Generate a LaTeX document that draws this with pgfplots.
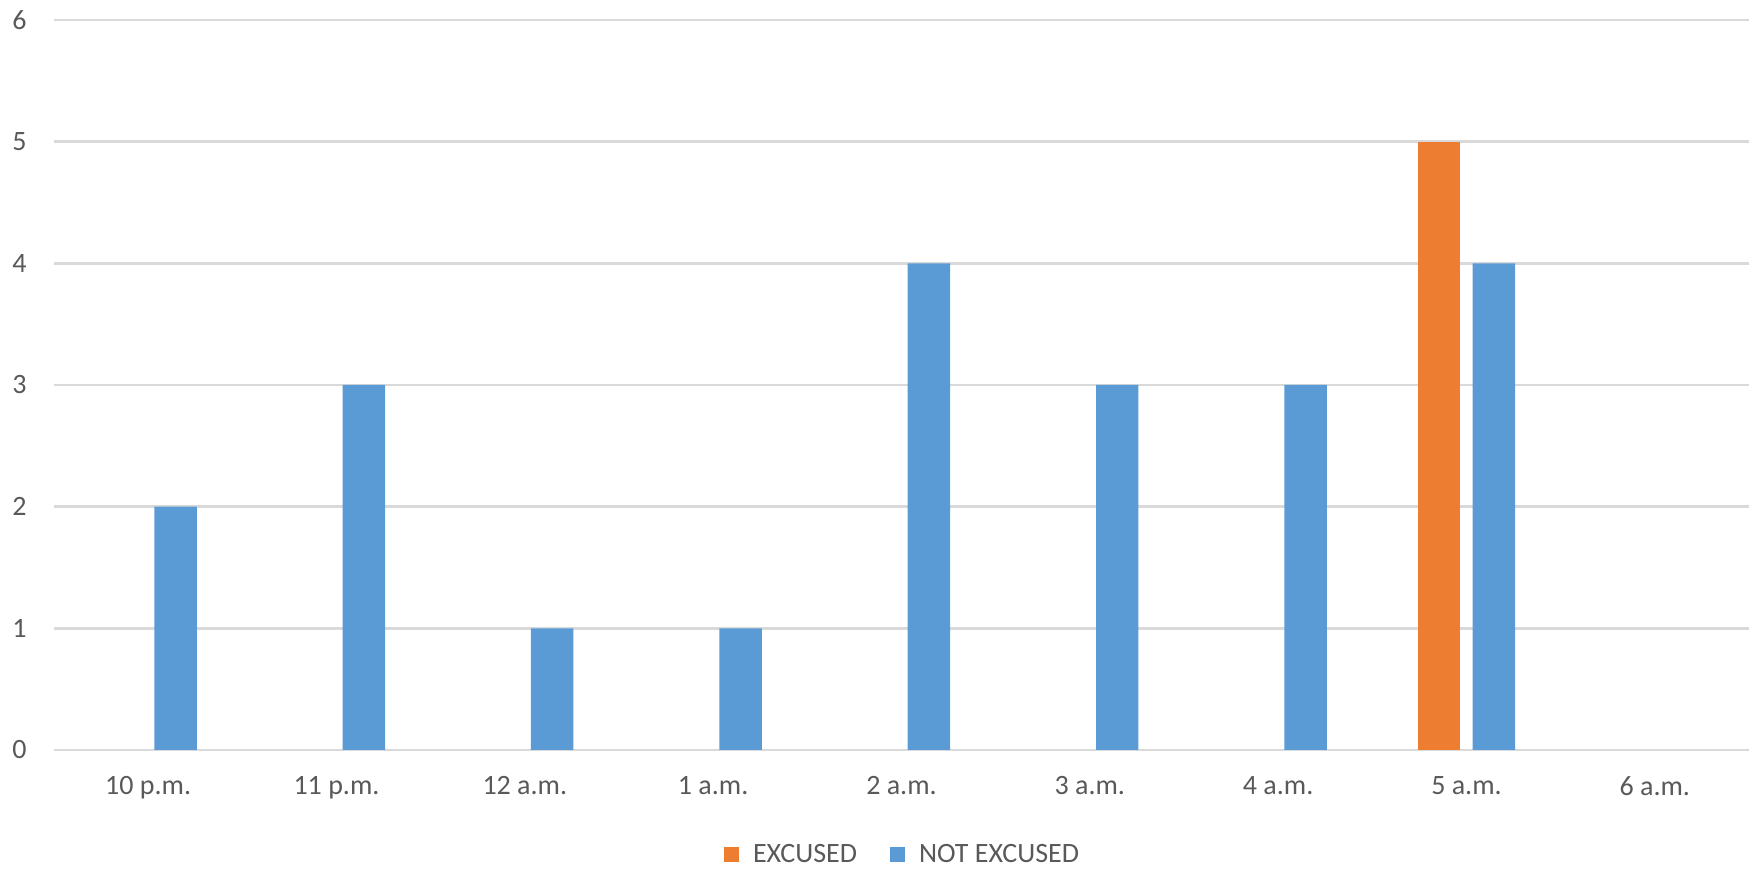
\documentclass[border=0pt]{standalone}
\usepackage{fontspec}
\setmainfont{Carlito}
\usepackage{pgfplots}
\pgfplotsset{compat=1.18}
\usetikzlibrary{calc}

\definecolor{excused}{HTML}{ED7D31}
\definecolor{notexcused}{HTML}{5B9BD5}
\definecolor{gridgray}{HTML}{D9D9D9}
\definecolor{textgray}{HTML}{595959}

\begin{document}
\begin{tikzpicture}
\begin{axis}[
  name=ax,
  scale only axis,
  width=847.5pt, height=365pt,
  xmin=-0.5, xmax=8.5,
  ymin=0, ymax=6,
  ytick={0,1,...,6},
  xtick={0,...,8},
  xticklabels={10 p.m., 11 p.m., 12 a.m., 1 a.m., 2 a.m., 3 a.m., 4 a.m., 5 a.m., 6 a.m.},
  major tick length=0pt,
  axis line style={draw=none},
  ymajorgrids,
  grid style={gridgray, line width=1.2pt},
  /pgf/number format/assume math mode=true,
  tick label style={font=\fontsize{14}{16.8}\selectfont, text=textgray},
  yticklabel style={inner sep=0pt, anchor=east, xshift=-13.5pt},
  xticklabel style={inner sep=0pt, anchor=north, yshift=-13pt},
  legend columns=2,
  legend style={draw=none, fill=none, at={(0.5,-0.1438)}, anchor=center,
    font=\fontsize{14}{16.8}\selectfont, text=textgray,
    nodes={inner sep=0pt},
    /tikz/every odd column/.append style={column sep=7pt},
    /tikz/every even column/.append style={column sep=16.5pt}},
  legend image code/.code={\fill[#1] (0pt,-3.75pt) rectangle (7.5pt,3.75pt);},
  clip=false,
]
% Excused late arrivals (only 5 a.m. is nonzero)
\addplot[ybar, bar width=0.2256, bar shift=-0.1455, fill=excused, draw=none]
  coordinates {(7,5)};
\addlegendentry{EXCUSED}
% Not excused late arrivals (6 a.m. is zero)
\addplot[ybar, bar width=0.2256, bar shift=0.1455, fill=notexcused, draw=none]
  coordinates {(0,2) (1,3) (2,1) (3,1) (4,4) (5,3) (6,3) (7,4)};
\addlegendentry{NOT EXCUSED}
\end{axis}
\pgfresetboundingbox
\path[use as bounding box] ($(ax.south west)+(-27pt,-59.5pt)$) rectangle ($(ax.north east)+(1.5pt,10pt)$);
\end{tikzpicture}
\end{document}
